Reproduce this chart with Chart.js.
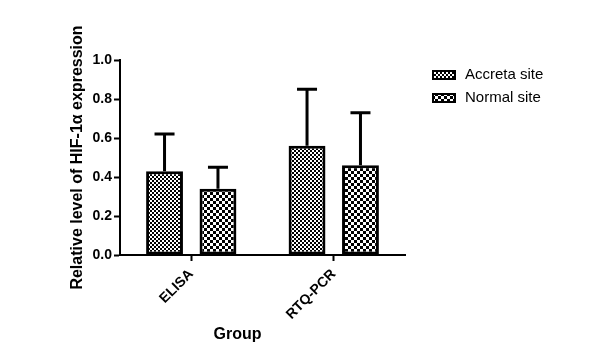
<!DOCTYPE html>
<html>
<head>
<meta charset="utf-8">
<script src="https://cdn.jsdelivr.net/npm/chart.js@4/dist/chart.umd.min.js"></script>
<style>
  html, body { margin: 0; padding: 0; background: #fff; }
  #wrap { width: 593px; height: 356px; }
</style>
</head>
<body>
<div id="wrap"><canvas id="c" width="593" height="356"></canvas></div>
<script>
const categories = ['ELISA', 'RTQ-PCR'];
const seriesNames = ['Accreta site', 'Normal site'];
const accretaMean = [0.43, 0.56];
const accretaErr = [0.19, 0.29];
const normalMean = [0.34, 0.46];
const normalErr = [0.11, 0.27];
const yTicks = [0, 0.2, 0.4, 0.6, 0.8, 1.0];
const yTitle = 'Relative level of HIF-1\u03b1 expression';
const xTitle = 'Group';

const FONT = '"Liberation Sans", Arial, sans-serif';
const canvas = document.getElementById('c');
const ctx0 = canvas.getContext('2d');

function checker(size) {
  const c = document.createElement('canvas');
  c.width = c.height = size * 2;
  const g = c.getContext('2d');
  g.fillStyle = '#fff';
  g.fillRect(0, 0, size * 2, size * 2);
  g.fillStyle = '#000';
  g.fillRect(0, 0, size, size);
  g.fillRect(size, size, size, size);
  return ctx0.createPattern(c, 'repeat');
}
const fineP = checker(2);
const coarseP = checker(3);

const errorBars = {
  id: 'errorBars',
  afterDatasetsDraw(chart) {
    const ctx = chart.ctx;
    const ys = chart.scales.y;
    chart.data.datasets.forEach((ds, i) => {
      const meta = chart.getDatasetMeta(i);
      meta.data.forEach((bar, j) => {
        const top = ys.getPixelForValue(ds.data[j] + ds.errors[j]);
        ctx.save();
        ctx.strokeStyle = '#000';
        ctx.lineWidth = 3;
        ctx.beginPath();
        ctx.moveTo(bar.x, bar.y);
        ctx.lineTo(bar.x, top);
        ctx.moveTo(bar.x - 10, top);
        ctx.lineTo(bar.x + 10, top);
        ctx.stroke();
        ctx.restore();
      });
    });
  }
};

const extras = {
  id: 'extras',
  afterDraw(chart) {
    const ctx = chart.ctx;
    const ca = chart.chartArea;
    ctx.save();
    // x title
    ctx.fillStyle = '#000';
    ctx.font = 'bold 16px ' + FONT;
    ctx.textAlign = 'center';
    ctx.textBaseline = 'middle';
    ctx.fillText(xTitle, (ca.left + ca.right) / 2 - 25, 335);
    // legend
    ctx.font = '15px ' + FONT;
    ctx.textAlign = 'left';
    chart.data.datasets.forEach((ds, i) => {
      const cy = 75 + i * 23;
      const bx = ca.right + 27;
      ctx.fillStyle = '#000';
      ctx.fillRect(bx, cy - 5, 24, 10);
      ctx.fillStyle = ds.backgroundColor;
      ctx.fillRect(bx + 2, cy - 3, 20, 6);
      ctx.fillStyle = '#000';
      ctx.fillText(ds.label, bx + 33, cy);
    });
    ctx.restore();
  }
};

new Chart(canvas, {
  type: 'bar',
  data: {
    labels: categories,
    datasets: [
      { label: seriesNames[0], data: accretaMean, errors: accretaErr, backgroundColor: fineP,
        borderColor: '#000', borderWidth: 3, borderSkipped: false,
        categoryPercentage: 0.75, barPercentage: 0.69 },
      { label: seriesNames[1], data: normalMean, errors: normalErr, backgroundColor: coarseP,
        borderColor: '#000', borderWidth: 3, borderSkipped: false,
        categoryPercentage: 0.75, barPercentage: 0.69 }
    ]
  },
  options: {
    responsive: false,
    animation: false,
    devicePixelRatio: 1,
    layout: { padding: { left: 65, top: 60, right: 188, bottom: 0 } },
    plugins: { legend: { display: false }, tooltip: { enabled: false } },
    scales: {
      x: {
        offset: true,
        grid: { display: true, offset: false, drawOnChartArea: false, drawTicks: true, tickLength: 6, tickColor: '#000', tickWidth: 2 },
        border: { display: true, color: '#000', width: 2 },
        ticks: { color: '#000', font: { family: FONT, size: 14, weight: 'bold' }, minRotation: 45, maxRotation: 45, padding: 5 },
        afterFit(s) { s.height = 101; }
      },
      y: {
        min: 0, max: 1,
        afterBuildTicks(s) { s.ticks = yTicks.map(v => ({ value: v })); },
        grid: { display: true, drawOnChartArea: false, drawTicks: true, tickLength: 6, tickColor: '#000', tickWidth: 2 },
        border: { display: true, color: '#000', width: 2 },
        ticks: { color: '#000', font: { family: FONT, size: 14, weight: 'bold' }, padding: 2, callback: v => Number(v).toFixed(1) },
        title: { display: true, text: yTitle, color: '#000', font: { family: FONT, size: 16, weight: 'bold' }, padding: 3 },
        afterFit(s) { s.width = 55; }
      }
    }
  },
  plugins: [errorBars, extras]
});
</script>
</body>
</html>
